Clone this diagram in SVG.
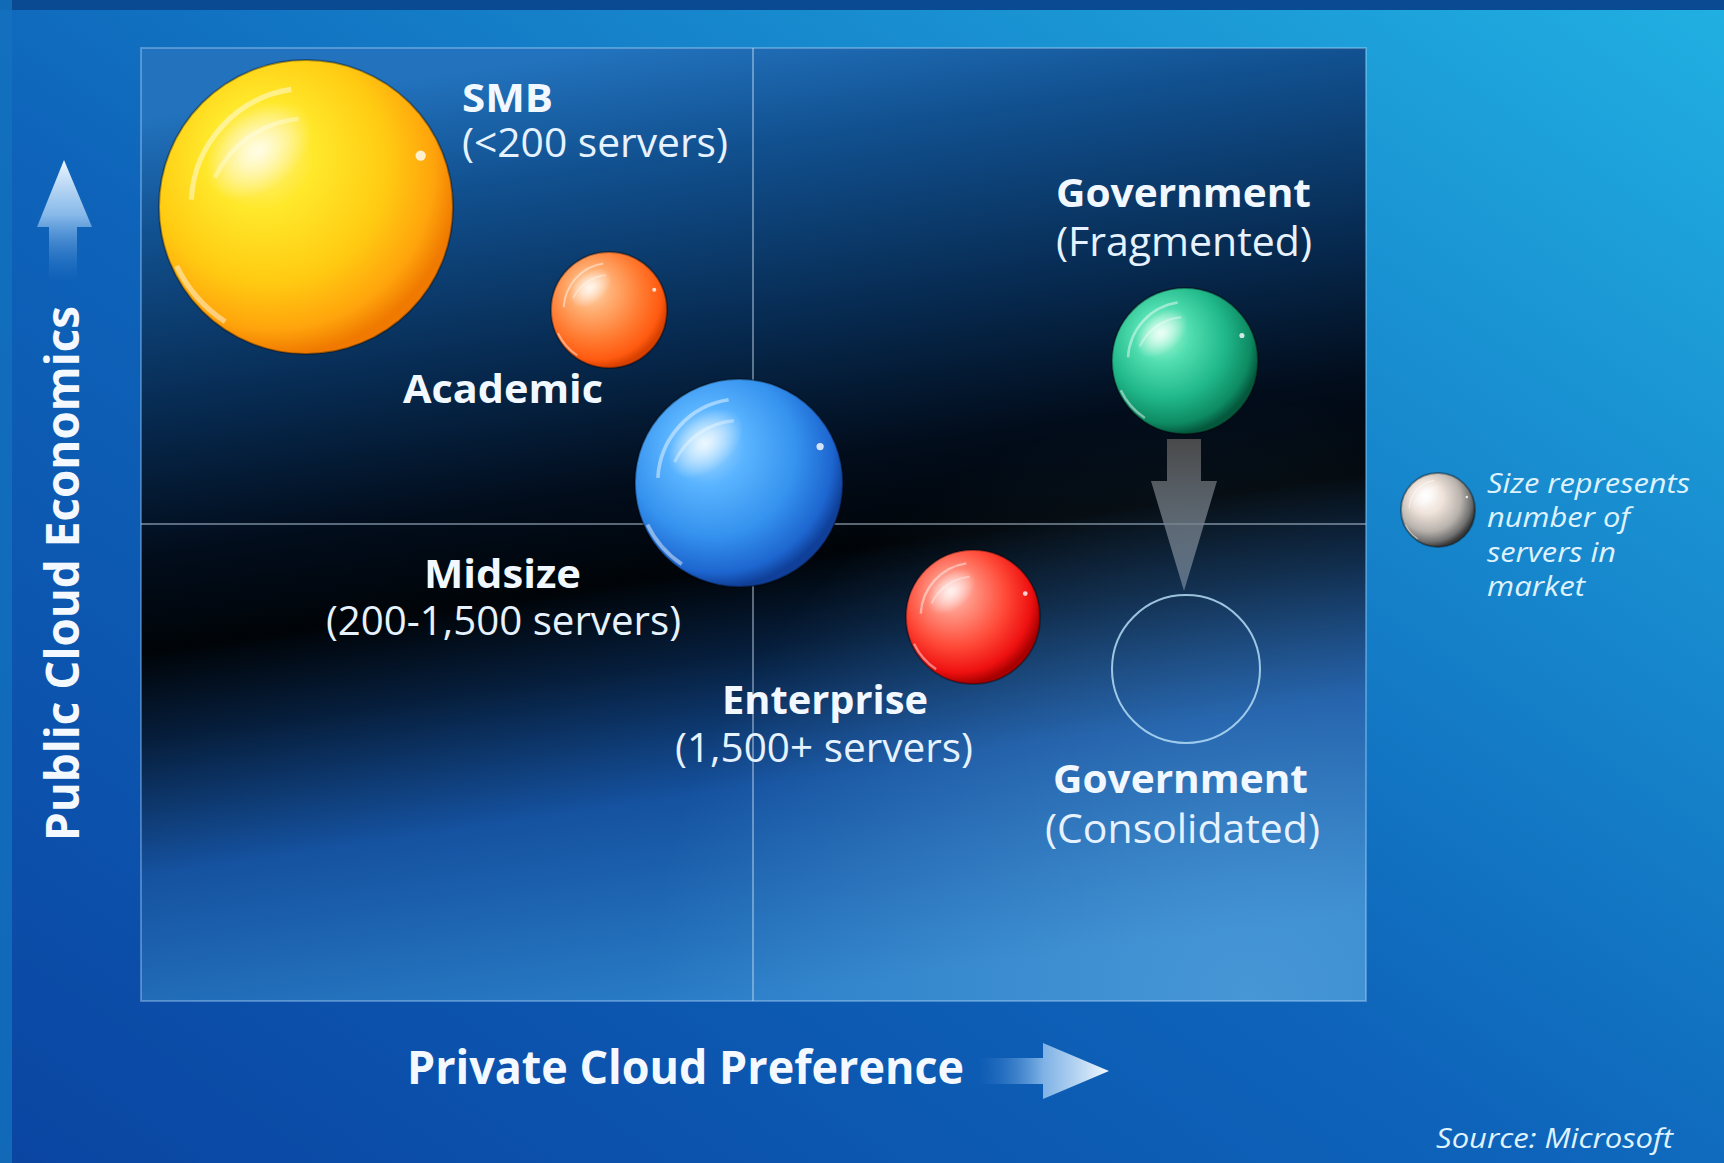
<svg xmlns="http://www.w3.org/2000/svg" xmlns:xlink="http://www.w3.org/1999/xlink" width="1724" height="1163" viewBox="0 0 1724 1163">
<defs>
<style>
.lb{font-family:"Open Sans","Liberation Sans",sans-serif;font-weight:700;font-size:40px;fill:#f2f8ff}
.sb{font-family:"Open Sans","Liberation Sans",sans-serif;font-weight:400;font-size:40px;fill:#e6f2ff}
.ax{font-family:"Open Sans","Liberation Sans",sans-serif;font-weight:700;font-size:46px;fill:#f4f9ff}
.it{font-family:"Open Sans","Liberation Sans",sans-serif;font-style:italic;font-size:28px;fill:#dff2ff}
.qline{stroke:#c8dcf0;stroke-opacity:0.45;stroke-width:2}
.ball{stroke:#000;stroke-opacity:0.35;stroke-width:2}
</style>
<linearGradient id="bg" x1="0" y1="1" x2="1" y2="0">
<stop offset="0" stop-color="#0a45a2"/>
<stop offset="0.45" stop-color="#0e64ba"/>
<stop offset="1" stop-color="#21b0e2"/>
</linearGradient>
<linearGradient id="chart" gradientUnits="userSpaceOnUse" x1="620" y1="48" x2="760" y2="1000">
<stop offset="0" stop-color="#2272bd"/>
<stop offset="0.12" stop-color="#11508f"/>
<stop offset="0.3" stop-color="#072b52"/>
<stop offset="0.45" stop-color="#020d1c"/>
<stop offset="0.55" stop-color="#000408"/>
<stop offset="0.64" stop-color="#061e3c"/>
<stop offset="0.78" stop-color="#1552a0"/>
<stop offset="1" stop-color="#2a7ec8"/>
</linearGradient>
<radialGradient id="chartGlow" gradientUnits="userSpaceOnUse" cx="1250" cy="1000" r="600">
<stop offset="0" stop-color="#7cc4f0" stop-opacity="0.35"/>
<stop offset="1" stop-color="#7cc4f0" stop-opacity="0"/>
</radialGradient>
<radialGradient id="gYellow" cx="0.4" cy="0.38" r="0.62" fx="0.32" fy="0.3">
<stop offset="0" stop-color="#fff6a0"/>
<stop offset="0.3" stop-color="#ffe82a"/>
<stop offset="0.65" stop-color="#ffcb12"/>
<stop offset="0.88" stop-color="#ffa40c"/>
<stop offset="1" stop-color="#f07a00"/>
</radialGradient>
<radialGradient id="gOrange" cx="0.4" cy="0.38" r="0.62" fx="0.32" fy="0.3">
<stop offset="0" stop-color="#ffe0c0"/>
<stop offset="0.3" stop-color="#ffae72"/>
<stop offset="0.65" stop-color="#ff7c32"/>
<stop offset="0.9" stop-color="#ff5a10"/>
<stop offset="1" stop-color="#d84000"/>
</radialGradient>
<radialGradient id="gBlue" cx="0.4" cy="0.38" r="0.62" fx="0.32" fy="0.3">
<stop offset="0" stop-color="#b8e4ff"/>
<stop offset="0.3" stop-color="#5ab4ff"/>
<stop offset="0.65" stop-color="#3592ee"/>
<stop offset="0.9" stop-color="#1d66d0"/>
<stop offset="1" stop-color="#0f3f98"/>
</radialGradient>
<radialGradient id="gRed" cx="0.4" cy="0.38" r="0.62" fx="0.32" fy="0.3">
<stop offset="0" stop-color="#ffd0c8"/>
<stop offset="0.3" stop-color="#ff8a78"/>
<stop offset="0.6" stop-color="#ff4a38"/>
<stop offset="0.88" stop-color="#ee1010"/>
<stop offset="1" stop-color="#a80000"/>
</radialGradient>
<radialGradient id="gGreen" cx="0.4" cy="0.38" r="0.62" fx="0.32" fy="0.3">
<stop offset="0" stop-color="#b8ffe0"/>
<stop offset="0.3" stop-color="#52deb0"/>
<stop offset="0.65" stop-color="#20b88a"/>
<stop offset="0.9" stop-color="#0e8a62"/>
<stop offset="1" stop-color="#04583c"/>
</radialGradient>
<radialGradient id="gGray" cx="0.4" cy="0.38" r="0.62" fx="0.32" fy="0.3">
<stop offset="0" stop-color="#ffffff"/>
<stop offset="0.35" stop-color="#f0e4dc"/>
<stop offset="0.7" stop-color="#b8b2ac"/>
<stop offset="0.9" stop-color="#707070"/>
<stop offset="1" stop-color="#383838"/>
</radialGradient>
<radialGradient id="hl" cx="0.5" cy="0.5" r="0.5">
<stop offset="0" stop-color="#ffffff" stop-opacity="0.75"/>
<stop offset="1" stop-color="#ffffff" stop-opacity="0"/>
</radialGradient>
<symbol id="gloss" viewBox="-1 -1 2 2">
<ellipse cx="-0.32" cy="-0.38" rx="0.42" ry="0.26" transform="rotate(-40 -0.32 -0.38)" fill="url(#hl)"/>
<path d="M-0.78,-0.05 A0.8,0.8 0 0 1 -0.1,-0.8" fill="none" stroke="#fff" stroke-opacity="0.45" stroke-width="0.035"/>
<path d="M-0.62,-0.2 A0.7,0.7 0 0 1 -0.05,-0.6" fill="none" stroke="#fff" stroke-opacity="0.35" stroke-width="0.03"/>
<path d="M-0.88,0.4 A0.95,0.95 0 0 0 -0.55,0.78" fill="none" stroke="#fff" stroke-opacity="0.45" stroke-width="0.035"/>
<circle cx="0.78" cy="-0.35" r="0.035" fill="#fff" fill-opacity="0.8"/>
</symbol>
<linearGradient id="upArrow" x1="0" y1="0" x2="0" y2="1">
<stop offset="0" stop-color="#eef7ff"/>
<stop offset="0.45" stop-color="#9cc8f2" stop-opacity="0.85"/>
<stop offset="1" stop-color="#3a80d0" stop-opacity="0"/>
</linearGradient>
<linearGradient id="rightArrow" x1="0" y1="0" x2="1" y2="0">
<stop offset="0" stop-color="#3a80d0" stop-opacity="0"/>
<stop offset="0.5" stop-color="#9cc8f2" stop-opacity="0.8"/>
<stop offset="1" stop-color="#f2f9ff"/>
</linearGradient>
<linearGradient id="downArrow" x1="0" y1="0" x2="0" y2="1">
<stop offset="0" stop-color="#4c4c4c" stop-opacity="0.95"/>
<stop offset="0.5" stop-color="#707a84" stop-opacity="0.8"/>
<stop offset="1" stop-color="#a8b8c8" stop-opacity="0.45"/>
</linearGradient>
</defs>

<g id="background">
<rect x="0" y="0" width="1724" height="1163" fill="url(#bg)"/>
<rect x="0" y="0" width="1724" height="10" fill="#0a4a92"/>
<rect x="0" y="0" width="12" height="1163" fill="#1372be" opacity="0.8"/>
</g>

<g id="chart-area">
<rect x="141" y="48" width="1225" height="953" fill="url(#chart)"/>
<rect x="141" y="48" width="1225" height="953" fill="url(#chartGlow)"/>
<rect x="141" y="48" width="1225" height="953" fill="none" stroke="#bfe0ff" stroke-opacity="0.35" stroke-width="2"/>
<line class="qline" x1="753" y1="48" x2="753" y2="1001"/>
<line class="qline" x1="141" y1="524" x2="1366" y2="524"/>
</g>

<g id="axis-y">
<path d="M64,160 L92,227 L77,227 L77,282 L49,282 L49,227 L37,227 Z" fill="url(#upArrow)"/>
<text class="ax" transform="translate(79,841) rotate(-90)" textLength="535" lengthAdjust="spacingAndGlyphs">Public Cloud Economics</text>
</g>

<g id="axis-x">
<text class="ax" x="407" y="1084" textLength="557" lengthAdjust="spacingAndGlyphs">Private Cloud Preference</text>
<path d="M978,1058 L1043,1058 L1043,1043 L1109,1071 L1043,1099 L1043,1084 L978,1084 Z" fill="url(#rightArrow)"/>
</g>

<g id="connectors">
<path d="M1167,439 L1201,439 L1201,481 L1217,481 L1184,591 L1151,481 L1167,481 Z" fill="url(#downArrow)"/>
</g>

<g id="node-smb">
<circle class="ball" cx="306" cy="207" r="147" fill="url(#gYellow)"/>
<use xlink:href="#gloss" href="#gloss" x="159" y="60" width="294" height="294"/>
<text class="lb" x="462" y="112" textLength="91" lengthAdjust="spacingAndGlyphs">SMB</text>
<text class="sb" x="462" y="157" textLength="266" lengthAdjust="spacingAndGlyphs">(&lt;200 servers)</text>
</g>

<g id="node-academic">
<circle class="ball" cx="609" cy="310" r="58" fill="url(#gOrange)"/>
<use xlink:href="#gloss" href="#gloss" x="551" y="252" width="116" height="116"/>
<text class="lb" x="403" y="403" textLength="200" lengthAdjust="spacingAndGlyphs">Academic</text>
</g>

<g id="node-midsize">
<circle class="ball" cx="739" cy="483" r="104" fill="url(#gBlue)"/>
<use xlink:href="#gloss" href="#gloss" x="635" y="379" width="208" height="208"/>
<text class="lb" x="424" y="588" textLength="157" lengthAdjust="spacingAndGlyphs">Midsize</text>
<text class="sb" x="326" y="635" textLength="355" lengthAdjust="spacingAndGlyphs">(200-1,500 servers)</text>
</g>

<g id="node-enterprise">
<circle class="ball" cx="973" cy="617" r="67" fill="url(#gRed)"/>
<use xlink:href="#gloss" href="#gloss" x="906" y="550" width="134" height="134"/>
<text class="lb" x="722" y="714" textLength="206" lengthAdjust="spacingAndGlyphs">Enterprise</text>
<text class="sb" x="675" y="762" textLength="298" lengthAdjust="spacingAndGlyphs">(1,500+ servers)</text>
</g>

<g id="node-gov-fragmented">
<text class="lb" x="1056" y="207" textLength="255" lengthAdjust="spacingAndGlyphs">Government</text>
<text class="sb" x="1056" y="256" textLength="256" lengthAdjust="spacingAndGlyphs">(Fragmented)</text>
<circle class="ball" cx="1185" cy="361" r="73" fill="url(#gGreen)"/>
<use xlink:href="#gloss" href="#gloss" x="1112" y="288" width="146" height="146"/>
</g>

<g id="node-gov-consolidated">
<circle cx="1186" cy="669" r="74" fill="none" stroke="#b4dcf6" stroke-opacity="0.85" stroke-width="2"/>
<text class="lb" x="1053" y="793" textLength="255" lengthAdjust="spacingAndGlyphs">Government</text>
<text class="sb" x="1045" y="843" textLength="275" lengthAdjust="spacingAndGlyphs">(Consolidated)</text>
</g>

<g id="legend">
<circle class="ball" cx="1438" cy="510" r="37" fill="url(#gGray)"/>
<use xlink:href="#gloss" href="#gloss" x="1401" y="473" width="74" height="74"/>
<text class="it" x="1487" y="493" textLength="203" lengthAdjust="spacingAndGlyphs">Size represents</text>
<text class="it" x="1487" y="527" textLength="143" lengthAdjust="spacingAndGlyphs">number of</text>
<text class="it" x="1487" y="562" textLength="129" lengthAdjust="spacingAndGlyphs">servers in</text>
<text class="it" x="1487" y="596" textLength="98" lengthAdjust="spacingAndGlyphs">market</text>
</g>

<g id="source">
<text class="it" x="1436" y="1148" font-size="27" textLength="237" lengthAdjust="spacingAndGlyphs">Source: Microsoft</text>
</g>
</svg>
